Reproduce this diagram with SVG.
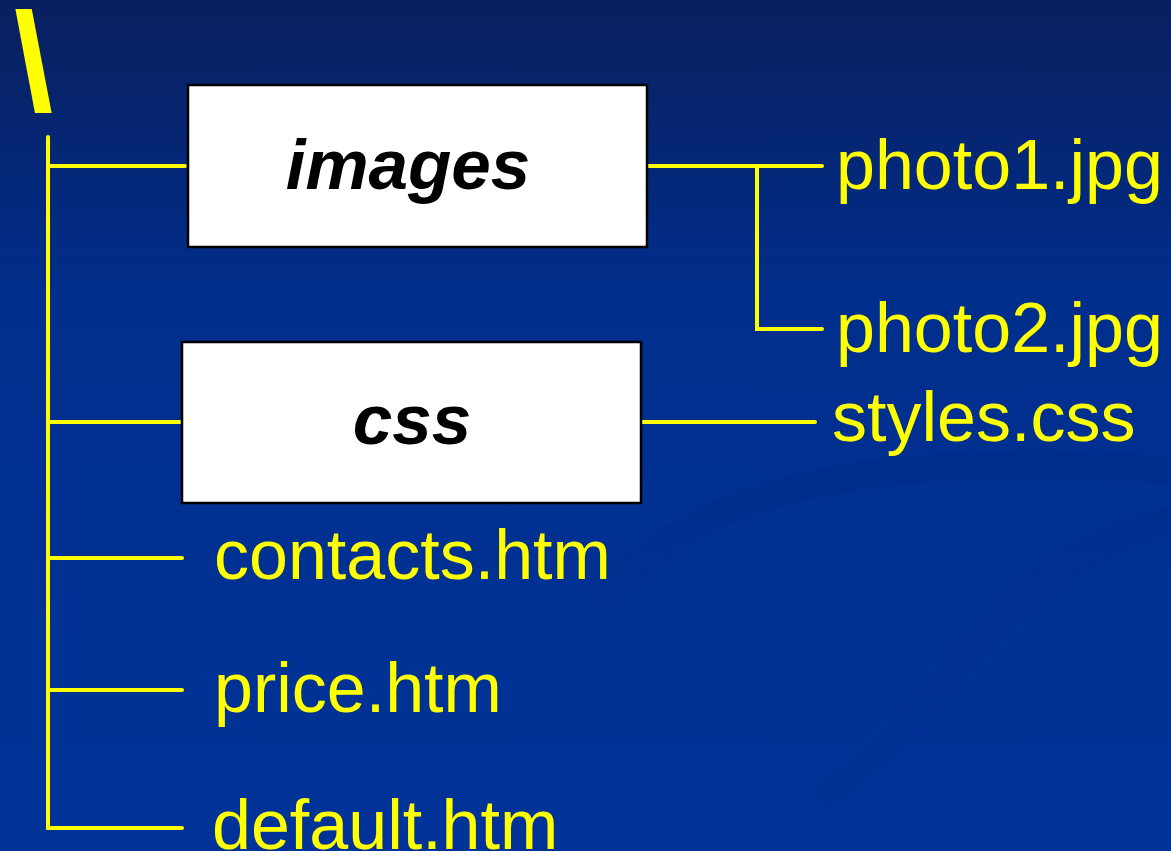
<svg xmlns="http://www.w3.org/2000/svg" width="1171" height="851" viewBox="0 0 1171 851">
<defs>
<linearGradient id="bg" x1="0" y1="0" x2="0" y2="1">
<stop offset="0" stop-color="#0a1f5e"/>
<stop offset="0.35" stop-color="#002e8c"/>
<stop offset="1" stop-color="#003399"/>
</linearGradient>
<style>
.ln{stroke:#ffff00;stroke-width:4;fill:none;stroke-linecap:round;stroke-linejoin:miter}
.box{fill:#ffffff;stroke:#000000;stroke-width:2.5}
.bt{font-family:"Liberation Sans",Arial,sans-serif;font-weight:bold;font-style:italic;font-size:71px;fill:#000000;text-anchor:middle}
.ft{font-family:"Liberation Sans",Arial,sans-serif;font-size:70px;fill:#ffff00}
</style>
</defs>
<rect width="1171" height="851" fill="url(#bg)"/>
<g opacity="0.07" fill="none" stroke="#001a66" stroke-width="28">
<path d="M600 600 C 700 480, 900 450, 1171 470"/>
<path d="M820 800 C 960 700, 1000 560, 1171 520"/>
</g>
<text x="14" y="110" font-family="Liberation Sans,Arial,sans-serif" font-weight="bold" font-size="140" fill="#ffff00">\</text>
<g id="connectors">
<path class="ln" d="M48 137 V828 H182"/>
<path class="ln" d="M48 166 H185"/>
<path class="ln" d="M48 422 H180"/>
<path class="ln" d="M48 558 H182"/>
<path class="ln" d="M48 690 H182"/>
<path class="ln" d="M647 166 H822"/>
<path class="ln" d="M757 166 V329 H822"/>
<path class="ln" d="M641 422 H815"/>
</g>
<g id="images"><rect class="box" x="188" y="85" width="459" height="162"/><text class="bt" x="408" y="189">images</text></g>
<g id="css"><rect class="box" x="182" y="342" width="459" height="161"/><text class="bt" x="412" y="444">css</text></g>
<g id="photo1"><text class="ft" x="836" y="189">photo1.jpg</text></g>
<g id="photo2"><text class="ft" x="836" y="352">photo2.jpg</text></g>
<g id="styles"><text class="ft" x="832" y="441">styles.css</text></g>
<g id="contacts"><text class="ft" x="214" y="579">contacts.htm</text></g>
<g id="price"><text class="ft" x="214" y="712">price.htm</text></g>
<g id="default"><text class="ft" x="212" y="849">default.htm</text></g>
</svg>
